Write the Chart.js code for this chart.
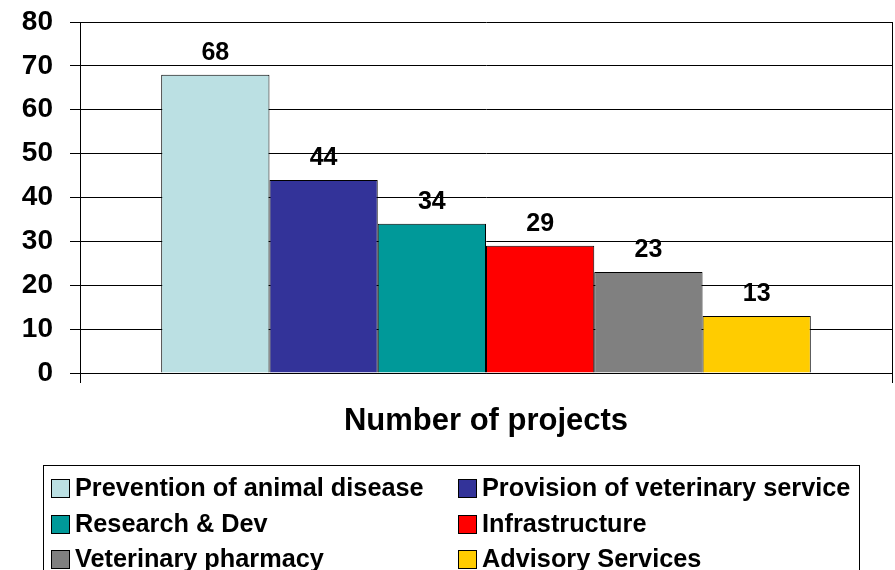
<!DOCTYPE html>
<html>
<head>
<meta charset="utf-8">
<script src="https://cdn.jsdelivr.net/npm/chart.js@4.4.1/dist/chart.umd.min.js"></script>
<style>
  body { margin: 0; background: #fff; }
  canvas { display: block; }
</style>
</head>
<body>
<canvas id="projects_chart" width="895" height="570"></canvas>
<script>
// data
var seriesNames = ['Prevention of animal disease', 'Provision of veterinary service',
                   'Research & Dev', 'Infrastructure', 'Veterinary pharmacy', 'Advisory Services'];
var seriesValues = [68, 44, 34, 29, 23, 13];
var seriesColors = ['#BBE0E3', '#333399', '#009999', '#FF0000', '#808080', '#FFCC00'];
var categories = [''];
var yTicks = [0, 10, 20, 30, 40, 50, 60, 70, 80];
var axisTitle = 'Number of projects';

var FONT = '"Liberation Sans", Arial, sans-serif';

var datasets = seriesNames.map(function(name, i) {
    return {
        label: name,
        data: [seriesValues[i]],
        backgroundColor: seriesColors[i],
        borderColor: '#000',
        borderWidth: 1,
        categoryPercentage: 0.8,
        barPercentage: 1.0
    };
});

// value on top of each bar
var valueLabels = {
    id: 'valueLabels',
    afterDatasetsDraw: function(chart) {
        var ctx = chart.ctx;
        ctx.save();
        ctx.font = 'bold 25px ' + FONT;
        ctx.fillStyle = '#000';
        ctx.textAlign = 'center';
        ctx.textBaseline = 'alphabetic';
        chart.data.datasets.forEach(function(ds, i) {
            var bar = chart.getDatasetMeta(i).data[0];
            ctx.fillText(String(ds.data[0]), bar.x, bar.y - 15);
        });
        ctx.restore();
    }
};

// boxed two-column legend under the axis title
var boxLegend = {
    id: 'boxLegend',
    afterDraw: function(chart) {
        var ctx = chart.ctx;
        var cols = [51, 458];
        var rows = [488, 524, 559];
        ctx.save();
        ctx.strokeStyle = '#000';
        ctx.lineWidth = 1;
        ctx.strokeRect(43.5, 465.5, 816, 130);
        ctx.font = 'bold 25.3px ' + FONT;
        ctx.textBaseline = 'middle';
        ctx.textAlign = 'left';
        chart.data.datasets.forEach(function(ds, i) {
            var x = cols[i % 2];
            var y = rows[Math.floor(i / 2)];
            ctx.fillStyle = ds.backgroundColor;
            ctx.fillRect(x, y - 9, 19, 19);
            ctx.strokeStyle = '#000';
            ctx.strokeRect(x + 0.5, y - 8.5, 18, 18);
            ctx.fillStyle = '#000';
            ctx.fillText(ds.label, x + 24, y + 1);
        });
        ctx.restore();
    }
};

var chart = new Chart(document.getElementById('projects_chart'), {
    type: 'bar',
    data: {
        labels: categories,
        datasets: datasets
    },
    plugins: [valueLabels, boxLegend],
    options: {
        responsive: false,
        animation: false,
        layout: { padding: { top: 22, right: 3, left: 0, bottom: 0 } },
        plugins: {
            legend: { display: false },
            tooltip: { enabled: false }
        },
        scales: {
            x: {
                offset: true,
                grid: { display: true, offset: true, color: '#000', lineWidth: 1, tickLength: 10 },
                border: { display: true, color: '#000', width: 1 },
                ticks: { display: false },
                title: {
                    display: true,
                    text: axisTitle,
                    color: '#000',
                    font: { family: FONT, size: 31, weight: 'bold', lineHeight: 1.2 },
                    padding: { top: 0, bottom: 130 }
                },
                afterFit: function(scale) { scale.height = 197; }
            },
            y: {
                min: 0,
                max: 80,
                afterBuildTicks: function(scale) {
                    scale.ticks = yTicks.map(function(v) { return { value: v }; });
                },
                grid: { color: '#000', lineWidth: 1, tickLength: 10 },
                border: { display: true, color: '#000', width: 1 },
                ticks: {
                    color: '#000',
                    padding: 17,
                    font: { family: FONT, size: 28, weight: 'bold', lineHeight: 0.35 }
                },
                afterFit: function(scale) { scale.width = 80; }
            }
        }
    }
});
</script>
</body>
</html>
